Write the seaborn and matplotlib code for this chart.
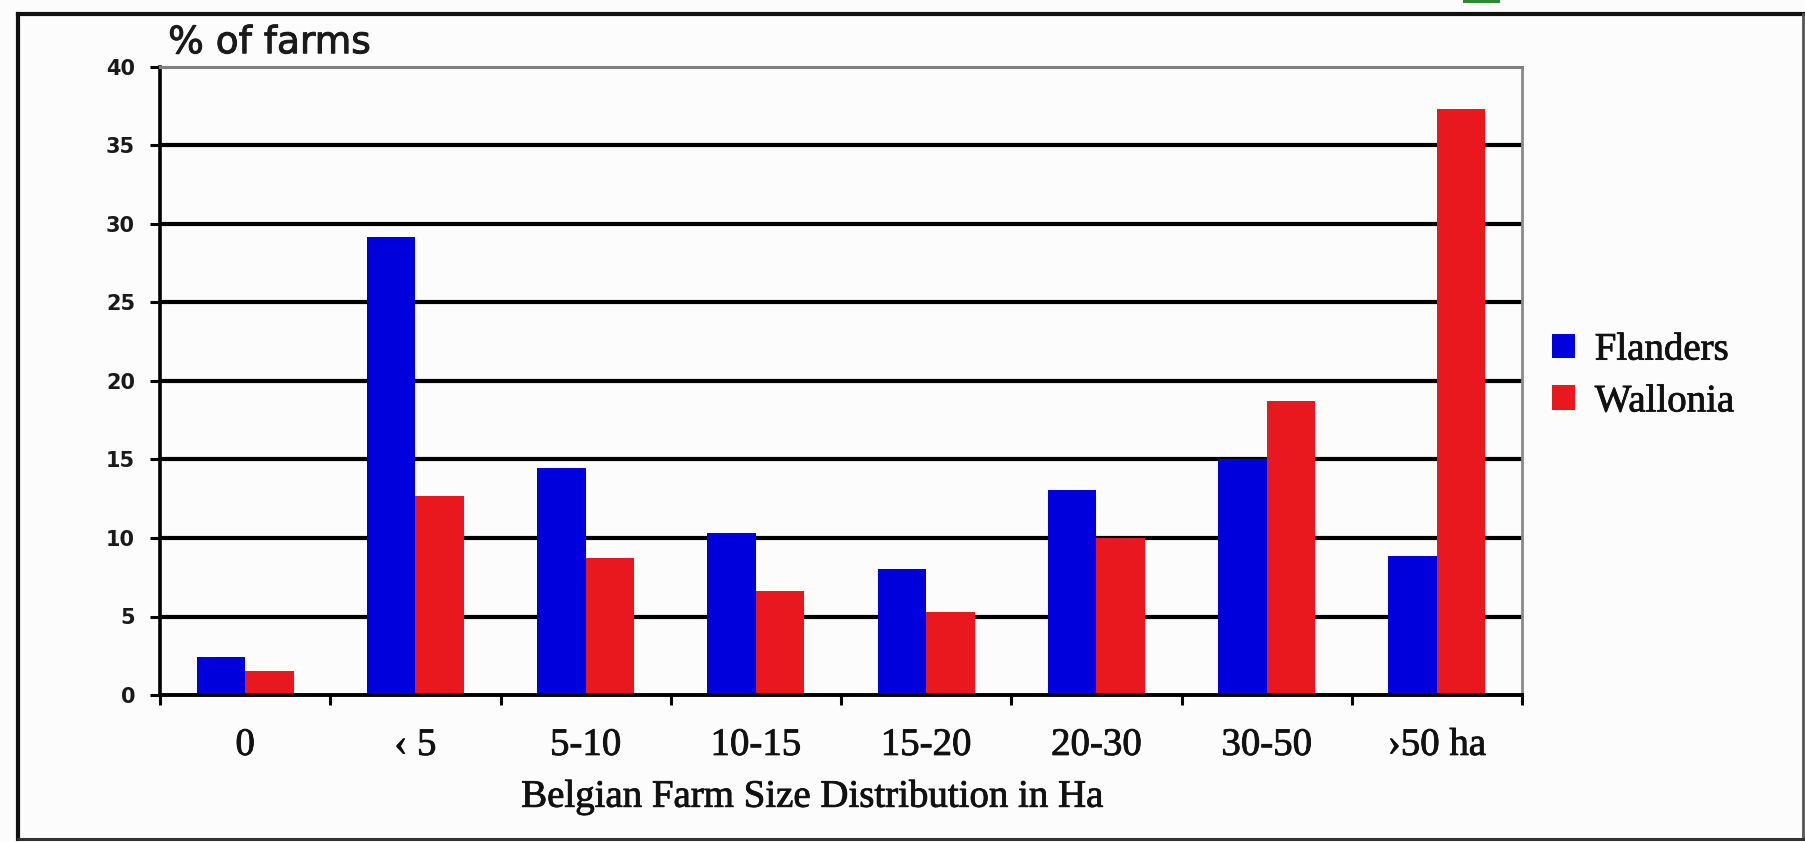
import matplotlib
matplotlib.use("Agg")
import matplotlib.pyplot as plt
import matplotlib.patheffects as pe
from matplotlib.patches import Rectangle, Patch
from matplotlib.lines import Line2D
import numpy as np
import pandas as pd
import seaborn as sns

# Farm size classes (hectares) and share of farms per region (%)
categories = ["0", "\u2039 5", "5-10", "10-15", "15-20", "20-30", "30-50", "\u203a50 ha"]
flanders = [2.45, 29.2, 14.45, 10.35, 8.0, 13.05, 15.0, 8.85]
wallonia = [1.5, 12.7, 8.7, 6.65, 5.3, 10.0, 18.7, 37.35]
regions = ["Flanders", "Wallonia"]
y_ticks = [0, 5, 10, 15, 20, 25, 30, 35, 40]

df = pd.DataFrame({
    "size": categories * 2,
    "pct": flanders + wallonia,
    "region": [regions[0]] * len(categories) + [regions[1]] * len(categories),
})

sns.set_style("white")
plt.rcParams["font.family"] = ["DejaVu Sans"]

W, H = 1805, 842
fig = plt.figure(figsize=(W / 100, H / 100), dpi=100, facecolor="#fcfcfc")
ax = fig.add_axes([160 / W, 1 - 695 / H, (1522 - 160) / W, (695 - 67) / H])
ax.set_facecolor("#fcfcfc")

palette = {"Flanders": "#0000dc", "Wallonia": "#e8181e"}
sns.barplot(data=df, x="size", y="pct", hue="region", hue_order=regions,
            order=categories, palette=palette, width=0.57, gap=0,
            saturation=1, linewidth=0, ax=ax, legend=False, zorder=2)

ax.set_xlim(-0.5, len(categories) - 0.5)
ax.set_ylim(y_ticks[0], y_ticks[-1])

# heavy horizontal rules at every inner tick
for v in y_ticks[1:-1]:
    ax.axhline(v, color="black", lw=3.0, zorder=1)

# spines
ax.spines["left"].set_color("black")
ax.spines["left"].set_linewidth(2.6)
ax.spines["bottom"].set_color("black")
ax.spines["bottom"].set_linewidth(2.8)
ax.spines["top"].set_color("#808080")
ax.spines["top"].set_linewidth(2.2)
ax.spines["right"].set_color("#8a8a8a")
ax.spines["right"].set_linewidth(2.0)
for s in ax.spines.values():
    s.set_zorder(3)

serif = "Liberation Serif"
thicken = [pe.withStroke(linewidth=0.6, foreground="#111111")]

# y axis
ax.set_yticks(y_ticks)
ax.set_yticklabels([str(t) for t in y_ticks], fontsize=15, fontweight="bold",
                   color="#1a1a1a")
ax.tick_params(axis="y", which="major", direction="out", length=7, width=2.2,
               color="black", pad=11, left=True)
ax.set_ylabel("")

# x axis: labels centred on groups, ticks on group boundaries
ax.set_xticks(range(len(categories)))
ax.set_xticklabels(categories, fontfamily=serif, fontsize=28, color="#111111")
for lbl in ax.get_xticklabels():
    lbl.set_path_effects(thicken)
ax.tick_params(axis="x", which="major", length=0, pad=23)
ax.set_xticks(np.arange(-0.5, len(categories), 1.0), minor=True)
ax.tick_params(axis="x", which="minor", direction="out", length=7, width=2.2,
               color="black", bottom=True)

ax.set_xlabel("Belgian Farm Size Distribution in Ha", fontfamily=serif,
              fontsize=28, color="#111111")
ax.xaxis.label.set_va("baseline")
ax.xaxis.label.set_path_effects(thicken)
ax.xaxis.set_label_coords(0.479, -0.178)

ax.text(0.006, 1.022, "% of farms", transform=ax.transAxes, fontsize=27,
        color="#1a1a1a", va="baseline", ha="left",
        path_effects=[pe.withStroke(linewidth=0.7, foreground="#1a1a1a")])

# legend
handles = [Patch(facecolor=palette[r], edgecolor="none", label=r) for r in regions]
leg = fig.legend(handles=handles, loc="center left",
                 bbox_to_anchor=(1552 / W, 1 - 376 / H), frameon=False,
                 prop={"family": serif, "size": 28},
                 handlelength=0.6, handleheight=0.6, handletextpad=0.5,
                 labelspacing=0.38, borderpad=0, borderaxespad=0)
for t in leg.get_texts():
    t.set_color("#111111")
    t.set_path_effects(thicken)

# outer frame
def fig_line(x0, y0, x1, y1, color, lw):
    fig.add_artist(Line2D([x0 / W, x1 / W], [1 - y0 / H, 1 - y1 / H],
                          transform=fig.transFigure, color=color, lw=lw,
                          solid_capstyle="projecting"))

fig_line(18, 14, 1803, 14, "#111111", 3.0)
fig_line(18, 14, 18, 839, "#111111", 3.0)
fig_line(1803, 14, 1803, 839, "#555555", 2.0)
fig_line(18, 839, 1803, 839, "#333333", 2.2)

# small green tab at the top edge
fig.add_artist(Rectangle((1463 / W, 1 - 3 / H), 37 / W, 3 / H,
                         transform=fig.transFigure, color="#2f8a2f", lw=0))

fig.savefig("out.png", dpi=100, facecolor=fig.get_facecolor())
